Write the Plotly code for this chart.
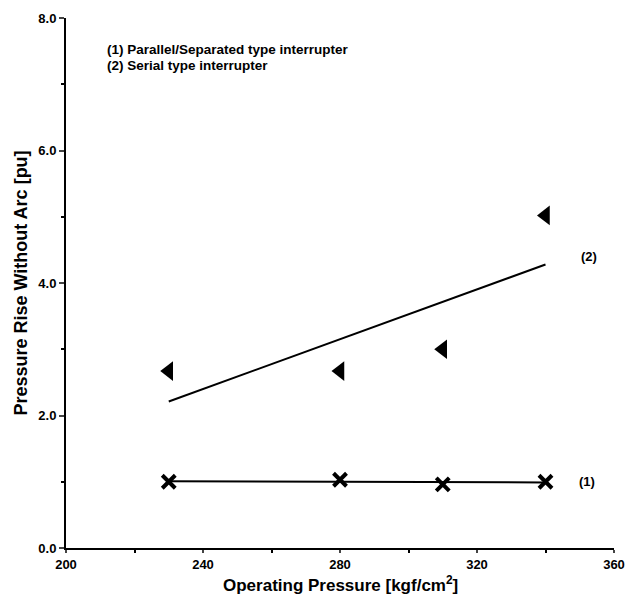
import numpy as np
import plotly.graph_objects as go

pressure = [230, 280, 310, 340]
rise_parallel = [1.00, 1.03, 0.96, 1.00]
rise_serial = [2.67, 2.67, 3.00, 5.02]

x_tickvals = [200, 240, 280, 320, 360]
y_tickvals = [0, 2, 4, 6, 8]
y_ticktext = ["0.0", "2.0", "4.0", "6.0", "8.0"]

FONT = "Liberation Sans, Arial, sans-serif"

fit1 = np.polyfit(pressure, rise_parallel, 1)
fit2 = np.polyfit(pressure, rise_serial, 1)
xs = [pressure[0], pressure[-1]]

fig = go.Figure()
fig.add_trace(go.Scatter(x=xs, y=np.polyval(fit1, xs), mode="lines",
                         line=dict(color="black", width=2), showlegend=False))
fig.add_trace(go.Scatter(x=xs, y=np.polyval(fit2, xs), mode="lines",
                         line=dict(color="black", width=2), showlegend=False))
fig.add_trace(go.Scatter(x=pressure, y=rise_parallel, mode="markers",
                         marker=dict(symbol="x-thin", size=13,
                                     line=dict(color="black", width=4)),
                         showlegend=False))
fig.add_trace(go.Scatter(x=pressure, y=rise_serial, mode="markers",
                         marker=dict(symbol="triangle-left", size=17, color="black"),
                         showlegend=False))

fig.add_annotation(x=0.072, y=0.941, xref="paper", yref="paper", xanchor="left", yanchor="middle",
                   text="(1) Parallel/Separated type interrupter", showarrow=False,
                   font=dict(family=FONT, size=13.5, color="black", weight="bold"))
fig.add_annotation(x=0.072, y=0.911, xref="paper", yref="paper", xanchor="left", yanchor="middle",
                   text="(2) Serial type interrupter", showarrow=False,
                   font=dict(family=FONT, size=13.5, color="black", weight="bold"))
fig.add_annotation(x=pressure[-1], y=4.4, xref="x", yref="y", xanchor="left", yanchor="middle",
                   xshift=33, text="(2)", showarrow=False,
                   font=dict(family=FONT, size=13, color="black", weight="bold"))
fig.add_annotation(x=pressure[-1], y=1.0, xref="x", yref="y", xanchor="left", yanchor="middle",
                   xshift=31, text="(1)", showarrow=False,
                   font=dict(family=FONT, size=13, color="black", weight="bold"))
fig.add_annotation(x=0.5, y=-0.068, xref="paper", yref="paper", xanchor="center", yanchor="middle",
                   text="Operating Pressure [kgf/cm<sup>2</sup>]", showarrow=False,
                   font=dict(family=FONT, size=17, color="black", weight="bold"))

fig.update_layout(
    width=628, height=596,
    margin=dict(l=66, r=14, t=18, b=48),
    paper_bgcolor="white", plot_bgcolor="white",
    font=dict(family=FONT, color="black"),
    xaxis=dict(range=[200, 360], tickvals=x_tickvals, ticks="outside", ticklen=3,
               tickwidth=1.5, linecolor="black", linewidth=2, showline=True,
               showgrid=False, zeroline=False, automargin=False,
               minor=dict(dtick=20, ticks="outside", ticklen=3, tickcolor="black"),
               tickfont=dict(size=13, family=FONT, weight="bold")),
    yaxis=dict(range=[0, 8], tickvals=y_tickvals, ticktext=y_ticktext, ticks="outside",
               ticklen=5, tickwidth=1.5, linecolor="black", linewidth=2, showline=True,
               showgrid=False, zeroline=False, automargin=False,
               minor=dict(dtick=1, ticks="outside", ticklen=3, tickcolor="black"),
               tickfont=dict(size=13, family=FONT, weight="bold"),
               title=dict(text="Pressure Rise Without Arc [pu]", standoff=6,
                          font=dict(size=18, family=FONT, weight="bold"))),
)

fig.write_html("out.html")
